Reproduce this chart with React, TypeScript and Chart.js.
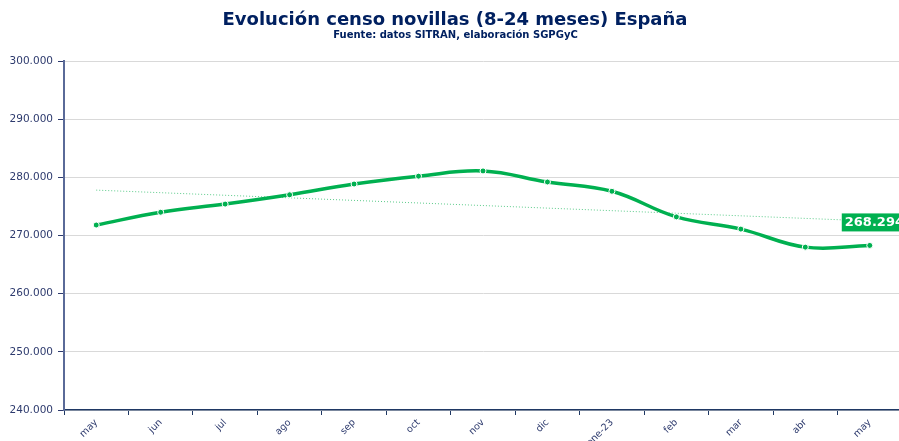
import React, { useEffect, useRef } from "react";
import { Chart, registerables } from "chart.js";

Chart.register(...registerables);

const categories = ["may", "jun", "jul", "ago", "sep", "oct", "nov", "dic", "ene-23", "feb", "mar", "abr", "may"];
const censo = [271800, 274000, 275400, 277000, 278850, 280200, 281100, 279200, 277600, 273200, 271100, 268000, 268294];
const tendencia = [277800, null, null, null, null, null, null, null, null, null, null, null, 272500];
const yTicks = [240000, 250000, 260000, 270000, 280000, 290000, 300000];

const titleText = "Evolución censo novillas (8-24 meses) España";
const subtitleText = "Fuente: datos SITRAN, elaboración SGPGyC";

const NAVY = "#002060";
const GREEN = "#00B050";

const fmt = (v: number) => {
  const s = Math.round(v).toString();
  return s.replace(/\B(?=(\d{3})+(?!\d))/g, ".");
};

const titlePlugin = {
  id: "customTitle",
  afterDraw(chart: any) {
    const ctx = chart.ctx;
    ctx.save();
    ctx.fillStyle = NAVY;
    ctx.textAlign = "center";
    ctx.textBaseline = "alphabetic";
    ctx.font = "bold 18px 'DejaVu Sans'";
    ctx.fillText(titleText, 455, 25);
    ctx.font = "bold 10px 'DejaVu Sans'";
    ctx.fillText(subtitleText, 455.5, 38);
    ctx.restore();
  },
};

const valueLabelPlugin = {
  id: "valueLabel",
  afterDatasetsDraw(chart: any) {
    const meta = chart.getDatasetMeta(0);
    const last = meta.data[meta.data.length - 1];
    if (!last) return;
    const ctx = chart.ctx;
    const x = last.x;
    const y = last.y;
    ctx.save();
    ctx.fillStyle = GREEN;
    ctx.fillRect(x - 28, y - 32, 72, 18);
    ctx.fillStyle = "#ffffff";
    ctx.font = "bold 13px 'DejaVu Sans'";
    ctx.textAlign = "left";
    ctx.textBaseline = "middle";
    ctx.fillText(fmt(censo[censo.length - 1]), x - 25, y - 22.5);
    ctx.restore();
  },
};

export default function App() {
  const ref = useRef<HTMLCanvasElement | null>(null);
  useEffect(() => {
    document.body.style.margin = "0";
    const chart = new Chart(ref.current as HTMLCanvasElement, {
      type: "line",
      data: {
        labels: categories,
        datasets: [
          {
            data: censo,
            borderColor: GREEN,
            backgroundColor: GREEN,
            borderWidth: 3.5,
            tension: 0.4,
            pointRadius: 3,
            pointBorderColor: "#ffffff",
            pointBorderWidth: 1,
            pointBackgroundColor: GREEN,
          },
          {
            data: tendencia,
            borderColor: "#5CCB8A",
            borderWidth: 1,
            borderDash: [1, 2],
            pointRadius: 0,
            spanGaps: true,
            tension: 0,
          },
        ],
      },
      options: {
        animation: false,
        responsive: false,
        maintainAspectRatio: false,
        layout: { padding: { top: 61, left: 0, right: 0, bottom: 0 } },
        plugins: {
          legend: { display: false },
          tooltip: { enabled: false },
          title: { display: false },
        },
        scales: {
          x: {
            type: "category",
            offset: true,
            grid: {
              offset: true,
              drawOnChartArea: false,
              drawTicks: true,
              tickLength: 5,
              tickColor: "#1F3864",
            },
            border: { color: "#1F3864", width: 1.5 },
            ticks: {
              color: "#2E3B6E",
              font: { family: "'DejaVu Sans'", size: 9.5 },
              minRotation: 45,
              maxRotation: 45,
              autoSkip: false,
              padding: 2,
            },
            afterFit(scale: any) {
              scale.height = 31;
            },
          },
          y: {
            min: 240000,
            max: 300000,
            afterBuildTicks(scale: any) {
              scale.ticks = yTicks.map((v) => ({ value: v }));
            },
            grid: {
              color: "#D9D9D9",
              lineWidth: 1,
              drawTicks: true,
              tickLength: 6,
              tickColor: "#2E3B6E",
            },
            border: { color: "#5A6A98", width: 2 },
            ticks: {
              color: "#2E3B6E",
              font: { family: "'DejaVu Sans'", size: 10.5 },
              padding: 5,
              callback: (v: any) => fmt(Number(v)),
            },
            afterFit(scale: any) {
              scale.width = 64;
            },
          },
        },
      },
      plugins: [titlePlugin, valueLabelPlugin],
    });
    return () => chart.destroy();
  }, []);
  return (
    <div style={{ position: "absolute", left: 0, top: 0, width: 899, height: 441, overflow: "hidden", background: "#fff" }}>
      <canvas ref={ref} width={907} height={441} style={{ width: 907, height: 441, display: "block" }} />
    </div>
  );
}
